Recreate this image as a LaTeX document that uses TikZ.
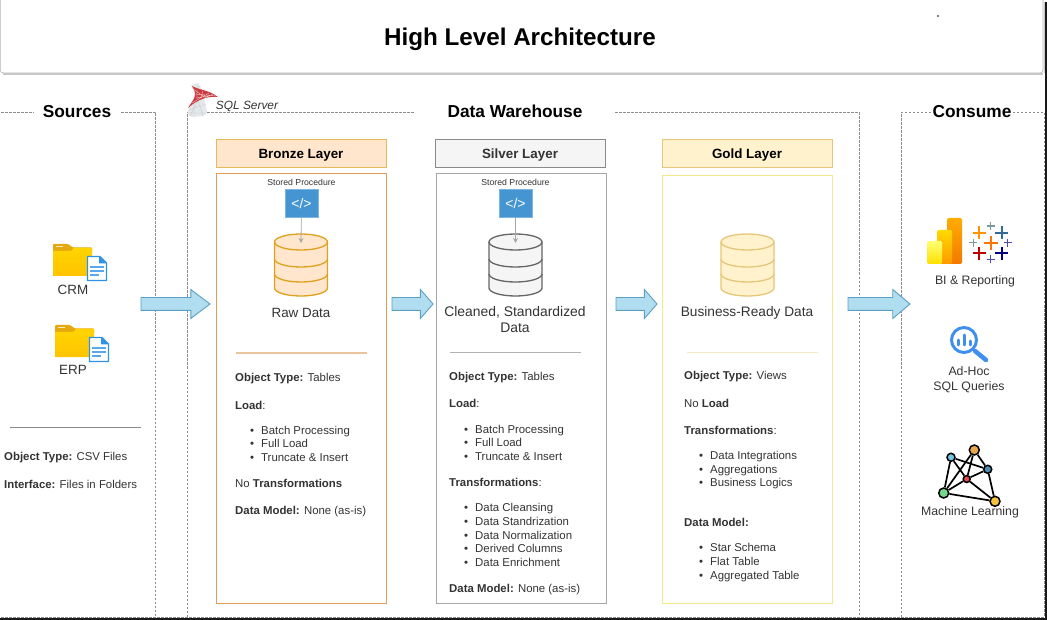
\documentclass[tikz,border=0pt]{standalone}
\usepackage{fontspec}
\setmainfont{Liberation Sans}
\usetikzlibrary{shapes.arrows,arrows.meta}

\definecolor{bodytext}{HTML}{333333}
\definecolor{dashgray}{HTML}{8C8C8C}
\definecolor{bronzefill}{HTML}{FFE6CC}
\definecolor{bronzeline}{HTML}{E8B85A}
\definecolor{bronzebox}{HTML}{E59A58}
\definecolor{bronzerule}{HTML}{EBC49E}
\definecolor{bronzedb}{HTML}{DFA21E}
\definecolor{silverfill}{HTML}{F5F5F5}
\definecolor{silverline}{HTML}{8A8A8A}
\definecolor{silverbox}{HTML}{A6A6A6}
\definecolor{silverdb}{HTML}{666666}
\definecolor{goldfill}{HTML}{FFF2CC}
\definecolor{goldline}{HTML}{E6C67A}
\definecolor{goldbox}{HTML}{F2E88C}
\definecolor{goldrule}{HTML}{F5E8C4}
\definecolor{flowfill}{HTML}{B1DDF0}
\definecolor{flowline}{HTML}{5A9FC4}
\definecolor{procblue}{HTML}{4495D1}
\definecolor{lensblue}{HTML}{3F8FF0}
\definecolor{docblue}{HTML}{2E93E6}
\definecolor{foldertab}{HTML}{E5A90F}
\definecolor{foldertop}{HTML}{FFD400}
\definecolor{folderlow}{HTML}{FFC400}
\definecolor{sqlred}{HTML}{CC3A3E}
\definecolor{sqlgray}{HTML}{E3E8EB}

\begin{document}
\begin{tikzpicture}[
        x={(1pt,0pt)},
        y={(0pt,-1pt)},
        zonebox/.style={draw=dashgray, line width=0.8pt, dash pattern=on 2.5pt off 1.5pt},
        zonetitle/.style={fill=white, inner ysep=1pt, font=\fontsize{17.3}{20}\selectfont\bfseries},
        layerhead/.style={minimum width=170pt, minimum height=28pt, line width=0.9pt, inner sep=0pt, text height=11pt, text depth=0pt, font=\fontsize{13.4}{16}\selectfont\bfseries},
        layerbox/.style={line width=1pt},
        rulerline/.style={line width=1.1pt},
        procicon/.style={fill=procblue, draw=procblue!70!white, minimum width=33pt, minimum height=28pt, inner sep=0pt, text=white, font=\fontsize{14}{16}\selectfont},
        proctext/.style={text=bodytext, inner sep=0pt, font=\fontsize{8.7}{10}\selectfont},
        procarrow/.style={draw=gray!70, line width=0.8pt, -{Stealth[length=5pt,width=5pt]}},
        flowarrow/.style={single arrow, anchor=tail, fill=flowfill, draw=flowline, line width=0.9pt, inner sep=6pt, outer sep=0pt, minimum width=28pt, single arrow head extend=8pt},
        datatext/.style={text=bodytext, inner sep=0pt, align=center, font=\fontsize{13.4}{16}\selectfont},
        usetext/.style={text=bodytext, inner sep=0pt, align=center, font=\fontsize{12.3}{15}\selectfont},
        infotext/.style={anchor=west, text=bodytext, inner sep=0pt, align=left, font=\fontsize{11.4}{13.7}\selectfont},
        mlnode/.style={circle, draw=black, line width=1.5pt, inner sep=0pt},
        mledge/.style={draw=black, line width=1.7pt},
        pics/dbstack/.style n args={2}{code={
            \coordinate (-top) at (0,1);
            \draw[fill=#1, draw=#2, line width=1.3pt] (-26.5,0) -- (-26.5,46) arc[start angle=180, end angle=0, x radius=26.5, y radius=8] -- (26.5,0) arc[start angle=0, end angle=-180, x radius=26.5, y radius=8] -- cycle;
            \draw[draw=#2, line width=1.3pt] (-26.5,0) arc[start angle=180, end angle=0, x radius=26.5, y radius=8];
            \draw[draw=#2, line width=1.3pt] (-26.5,17) arc[start angle=180, end angle=0, x radius=26.5, y radius=8];
            \draw[draw=#2, line width=1.3pt] (-26.5,32) arc[start angle=180, end angle=0, x radius=26.5, y radius=8];
        }},
        pics/folderdoc/.style={code={
            \fill[fill=foldertab, rounded corners=1pt] (0,9) -- (0,0) -- (15,0) -- (20,3.5) -- (39,3.5) -- (39,9) -- cycle;
            \fill[fill=white!75!foldertab] (3,1.8) rectangle (10,3.4);
            \shade[top color=foldertop, bottom color=folderlow] (0,7) -- (18,7) -- (21,4) -- (39,4) -- (39,32) -- (0,32) -- cycle;
            \draw[fill=white, draw=docblue, line width=1.4pt] (34.5,12.5) -- (47,12.5) -- (53.5,19) -- (53.5,36.5) -- (34.5,36.5) -- cycle;
            \fill[fill=docblue] (46,12) -- (54,19.5) -- (46,19.5) -- cycle;
            \draw[draw=docblue!80!white, line width=1.1pt] (37,23) -- (51,23);
            \draw[draw=docblue!80!white, line width=1.1pt] (37,27) -- (51,27);
            \draw[draw=docblue!80!white, line width=1.1pt] (37,31) -- (46,31);
        }},
        pics/tabplus/.style n args={3}{code={
            \draw[draw=#1, line width=#3] (-#2,0) -- (#2,0);
            \draw[draw=#1, line width=#3] (0,-#2) -- (0,#2);
        }}
    ]

    \useasboundingbox (0,0) rectangle (1047,620);

    % screenshot edge
    \fill[black!90] (1045,2) rectangle (1047,620);
    \fill[black!90] (0,618) rectangle (1047,620);

    % title bar
    \draw[draw=black!30, line width=0.6pt, rounded corners=3pt] (0.3,-8) rectangle (1043,73);
    \draw[draw=black!22, line width=1.8pt] (3,74) -- (1043,74);
    \draw[draw=black!22, line width=0.8pt] (1044,2) -- (1044,73);
    \fill[gray] (937,15.5) rectangle (939,17);
    \node (hlatitle) at (520,39.5) [inner sep=0pt, font=\fontsize{24.2}{28}\selectfont\bfseries] {High Level Architecture};

    % dashed zones
    \draw[zonebox] (-3,112) -- (155.5,112) -- (155.5,617);
    \draw[zonebox] (187.5,617) -- (187.5,112.5) -- (859,112.5) -- (859,617);
    \draw[zonebox] (901,617) -- (901,112.5) -- (1044,112.5) -- (1044,617);
    \draw[zonebox] (-3,617) -- (1044,617);
    \node[zonetitle, inner xsep=9pt] (srctitle) at (77,111.5) {Sources};
    \node[zonetitle, inner xsep=33pt] (dwhtitle) at (515,111) {Data Warehouse};
    \node[zonetitle, inner xsep=2pt] (usetitle) at (972,111.5) {Consume};

    % sql server logo
    \fill[fill=sqlgray] (191,85) -- (198,83) -- (203,92) -- (207,112) -- (204,116) -- (191,117) -- (187.5,113) -- (190,104) -- (196,96) -- cycle;
    \draw[draw=black!22, line width=0.3pt] (189,110) -- (206,104) (190,116) -- (198,100) (203,116) -- (198,100) (193,88) -- (201,86) (194,116) -- (194,104) (188,113) -- (207,113);
    \fill[fill=sqlred] (192,86) .. controls (199,90) and (209,90) .. (218,97) .. controls (208,96) and (198,99) .. (188,108) .. controls (192,101) and (199,96) .. (192,86);
    \draw[draw=white!75!sqlred, line width=0.35pt] (193,89) -- (206,98) (197,90) -- (197,99) (203,91) -- (201,97) (209,93) -- (192,103) (195,94) -- (216,96) (196,98) -- (209,96) (213,94) -- (207,97);
    \node (sqltext) at (247,106) [inner sep=0pt, text=bodytext, font=\fontsize{11.9}{14}\selectfont\itshape] {SQL Server};

    % sources
    \pic at (53,244) {folderdoc};
    \node[datatext] (crmtext) at (73,289.5) {CRM};
    \pic at (55,325) {folderdoc};
    \node[datatext] (erptext) at (73,369.5) {ERP};
    \draw[rulerline, draw=silverline] (10,427.5) -- (141,427.5);
    \node[infotext] (srctype) at (4,458) {\textbf{Object Type:} CSV Files};
    \node[infotext] (srciface) at (4,484) {\textbf{Interface:} Files in Folders};

    % bronze layer
    \node[layerhead, fill=bronzefill, draw=bronzeline] (brzhead) at (301,153) {Bronze Layer};
    \draw[layerbox, draw=bronzebox] (216.5,173.5) rectangle (386.5,603.5);
    \node[proctext] (brzproctext) at (301.5,182) {Stored Procedure};
    \node[procicon] (brzproc) at (301.5,203) {</>};
    \pic (brzdb) at (301,242) {dbstack={bronzefill}{bronzedb}};
    \draw[procarrow] (brzproc) -- (brzdb-top);
    \node[datatext] (brzdata) at (301,312.5) {Raw Data};
    \draw[rulerline, draw=bronzerule] (236,353) -- (367,353);
    \node[infotext] (brztype) at (235,378.5) {\textbf{Object Type:} Tables};
    \node[infotext] (brzload) at (235,405) {\textbf{Load}:};
    \node[infotext] (brzloadlist) at (250,443.7) {\textbullet\hspace{7pt}Batch Processing\\\textbullet\hspace{7pt}Full Load\\\textbullet\hspace{7pt}Truncate \& Insert};
    \node[infotext] (brztrans) at (235,483) {No \textbf{Transformations}};
    \node[infotext] (brzmodel) at (235,512) {\textbf{Data Model:} None (as-is)};

    % silver layer
    \node[layerhead, fill=silverfill, draw=silverline, text=bodytext] (slvhead) at (520,153) {Silver Layer};
    \draw[layerbox, draw=silverbox] (436.5,173.5) rectangle (606.5,603.5);
    \node[proctext] (slvproctext) at (515.5,182) {Stored Procedure};
    \node[procicon] (slvproc) at (515.5,203) {</>};
    \pic (slvdb) at (515.5,242) {dbstack={silverfill}{silverdb}};
    \draw[procarrow] (slvproc) -- (slvdb-top);
    \node[datatext, font=\fontsize{13.9}{16}\selectfont] (slvdata) at (515,320) {Cleaned, Standardized\\Data};
    \draw[rulerline, draw=black!30] (450,352.5) -- (581,352.5);
    \node[infotext] (slvtype) at (449,377.5) {\textbf{Object Type:} Tables};
    \node[infotext] (slvload) at (449,403.5) {\textbf{Load}:};
    \node[infotext] (slvloadlist) at (464,442.7) {\textbullet\hspace{7pt}Batch Processing\\\textbullet\hspace{7pt}Full Load\\\textbullet\hspace{7pt}Truncate \& Insert};
    \node[infotext] (slvtrans) at (449,482) {\textbf{Transformations}:};
    \node[infotext] (slvtranslist) at (464,535) {\textbullet\hspace{7pt}Data Cleansing\\\textbullet\hspace{7pt}Data Standrization\\\textbullet\hspace{7pt}Data Normalization\\\textbullet\hspace{7pt}Derived Columns\\\textbullet\hspace{7pt}Data Enrichment};
    \node[infotext] (slvmodel) at (449,589.5) {\textbf{Data Model:} None (as-is)};

    % gold layer
    \node[layerhead, fill=goldfill, draw=goldline] (gldhead) at (747,153) {Gold Layer};
    \draw[layerbox, draw=goldbox] (662,176) rectangle (832,603.5);
    \pic (glddb) at (747.5,242) {dbstack={goldfill}{goldline}};
    \node[datatext, font=\fontsize{13.7}{16}\selectfont] (glddata) at (747,312.5) {Business-Ready Data};
    \draw[rulerline, draw=goldrule] (687,352.5) -- (818,352.5);
    \node[infotext] (gldtype) at (684,376.5) {\textbf{Object Type:} Views};
    \node[infotext] (gldload) at (684,403) {No \textbf{Load}};
    \node[infotext] (gldtrans) at (684,430) {\textbf{Transformations}:};
    \node[infotext] (gldtranslist) at (699,470.2) {\textbullet\hspace{7pt}Data Integrations\\\textbullet\hspace{7pt}Aggregations\\\textbullet\hspace{7pt}Business Logics};
    \node[infotext] (gldmodel) at (684,522) {\textbf{Data Model:}};
    \node[infotext] (gldmodellist) at (699,562.5) {\textbullet\hspace{7pt}Star Schema\\\textbullet\hspace{7pt}Flat Table\\\textbullet\hspace{7pt}Aggregated Table};

    % flow arrows
    \node[flowarrow, minimum height=69pt, single arrow tip angle=74] (flowsrc) at (141,304) {};
    \node[flowarrow, minimum height=41pt, single arrow tip angle=98] (flowbrz) at (392,304) {};
    \node[flowarrow, minimum height=41pt, single arrow tip angle=98] (flowslv) at (616,304) {};
    \node[flowarrow, minimum height=62pt, single arrow tip angle=80] (flowgld) at (848,304) {};

    % power bi
    \shade[top color=orange!65!yellow, bottom color=orange!95!black, rounded corners=1.5pt] (947,218) rectangle (962,264);
    \shade[top color=yellow!70!orange, bottom color=orange!80!yellow, rounded corners=1.5pt] (937,230) rectangle (952,264);
    \shade[top color=yellow!55!white, bottom color=yellow!75!orange, rounded corners=1.5pt] (927,241) rectangle (942,264);

    % tableau
    \pic at (990.7,243.3) {tabplus={orange!90!red}{7}{2.3pt}};
    \pic at (979.3,232.7) {tabplus={orange!85!yellow}{6.3}{2pt}};
    \pic at (1001.7,232.7) {tabplus={blue!30!teal!60!gray}{6.3}{2pt}};
    \pic at (990.7,226) {tabplus={teal!30!gray!80}{4}{1.4pt}};
    \pic at (973.3,242.7) {tabplus={teal!30!gray!80}{4}{1.4pt}};
    \pic at (1007.7,242.7) {tabplus={blue!40!gray}{4}{1.4pt}};
    \pic at (979.3,253.3) {tabplus={red!75!black}{6.3}{2pt}};
    \pic at (1001.7,253.3) {tabplus={blue!50!black}{6.3}{2pt}};
    \pic at (990.7,259.3) {tabplus={blue!40!gray}{4}{1.4pt}};
    \node[usetext] (bitext) at (975,281) {BI \& Reporting};

    % magnifier
    \draw[draw=lensblue, line width=3pt] (964,340) circle (12.5);
    \draw[draw=lensblue, line width=4.5pt, line cap=round] (975,351) -- (986,360);
    \draw[draw=lensblue, line width=3pt, line cap=round] (958,340) -- (958,345);
    \draw[draw=lensblue, line width=3pt, line cap=round] (964,335) -- (964,345);
    \draw[draw=lensblue, line width=3pt, line cap=round] (970,341) -- (970,345);
    \node[usetext] (adhoctext) at (969,379.5) {Ad-Hoc\\SQL Queries};

    % machine learning graph
    \node[mlnode, fill={rgb,255:red,232;green,166;blue,74}, minimum size=10pt] (mlorange) at (974.3,450) {};
    \node[mlnode, fill={rgb,255:red,115;green,198;blue,230}, minimum size=8pt] (mlsky) at (951,457.3) {};
    \node[mlnode, fill={rgb,255:red,74;green,143;blue,176}, minimum size=8pt] (mlteal) at (987.7,469.3) {};
    \node[mlnode, fill={rgb,255:red,232;green,71;blue,76}, minimum size=7pt] (mlred) at (966.7,479) {};
    \node[mlnode, fill={rgb,255:red,116;green,217;blue,143}, minimum size=10pt] (mlgreen) at (943.7,493) {};
    \node[mlnode, fill={rgb,255:red,245;green,194;blue,60}, minimum size=10pt] (mlyellow) at (995,501.3) {};
    \draw[mledge] (mlsky) -- (mlteal);
    \draw[mledge] (mlsky) -- (mlred);
    \draw[mledge] (mlsky) -- (mlgreen);
    \draw[mledge] (mlorange) -- (mlteal);
    \draw[mledge] (mlorange) -- (mlred);
    \draw[mledge] (mlorange) -- (mlgreen);
    \draw[mledge] (mlteal) -- (mlred);
    \draw[mledge] (mlteal) -- (mlyellow);
    \draw[mledge] (mlred) -- (mlgreen);
    \draw[mledge] (mlred) -- (mlyellow);
    \draw[mledge] (mlgreen) -- (mlyellow);
    \node[usetext] (mltext) at (970,512.5) {Machine Learning};

\end{tikzpicture}
\end{document}
